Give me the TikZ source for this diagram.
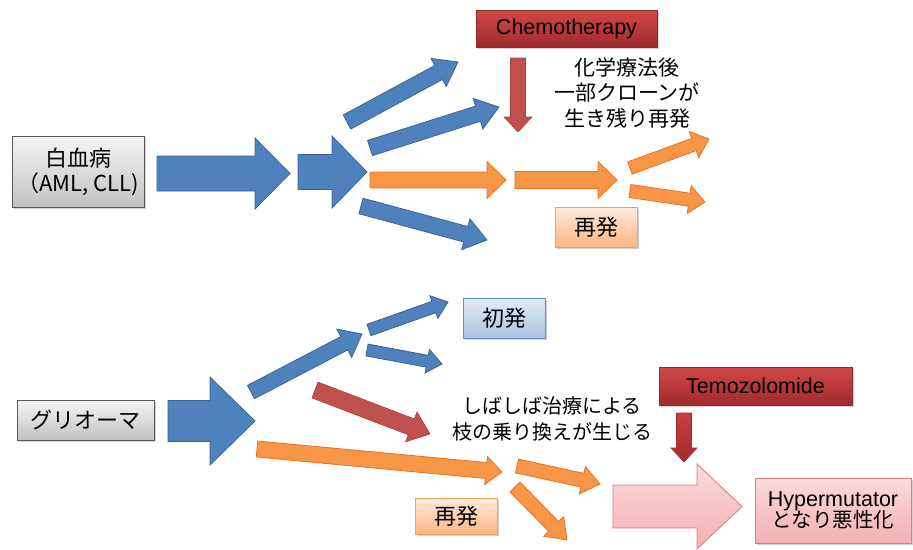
\documentclass[tikz,border=0pt]{standalone}
\usepackage{fontspec}
\setmainfont{Noto Sans CJK JP}
\newfontfamily\latfont{Liberation Sans}
\usetikzlibrary{shadows}
\definecolor{bluef}{HTML}{4F81BD}
\definecolor{blued}{HTML}{3A6595}
\definecolor{orangef}{HTML}{F79646}
\definecolor{oranged}{HTML}{E8731F}
\definecolor{redf}{HTML}{C0504D}
\definecolor{redd}{HTML}{A8403E}
\definecolor{temot}{HTML}{C8403F}
\definecolor{temob}{HTML}{A32A2D}
\definecolor{pinkt}{HTML}{FADADC}
\definecolor{pinkb}{HTML}{F4B0B3}
\definecolor{pinkd}{HTML}{DE7F84}
\definecolor{chemot}{HTML}{D24848}
\definecolor{chemob}{HTML}{A02A2C}
\definecolor{chemod}{HTML}{8E2A2A}
\definecolor{orbt}{HTML}{FEEBDC}
\definecolor{orbb}{HTML}{F9B583}
\definecolor{orbd}{HTML}{F4A060}
\definecolor{blbt}{HTML}{E2EBF6}
\definecolor{blbb}{HTML}{A9C3E2}
\definecolor{blbd}{HTML}{5E8FCB}
\newcommand{\barrow}[8]{%
  \pgfmathsetmacro\barA{atan2(#5-#3,#4-#2)}%
  \pgfmathsetmacro\barL{veclen(#4-#2,#5-#3)}%
  \begin{scope}[shift={(#2,#3)},rotate=-\barA]
    \draw[#1] (0,#6) -- (\barL-#8,#6) -- (\barL-#8,#7) -- (\barL,0)
      -- (\barL-#8,-#7) -- (\barL-#8,-#6) -- (0,-#6) -- cycle;
  \end{scope}}
\tikzset{
  bluearr/.style={fill=bluef,draw=blued,line width=0.8pt,line join=miter},
  orangearr/.style={fill=orangef,draw=oranged,line width=0.8pt,line join=miter},
  redarr/.style={fill=redf,draw=redd,line width=0.6pt,line join=miter},
  temoarr/.style={top color=temot,bottom color=temob,draw=temob,line width=0.6pt},
  pinkarr/.style={top color=pinkt,bottom color=pinkb,draw=pinkd,line width=0.9pt,line join=miter},
  boxshadow/.style={drop shadow={shadow xshift=1.5pt,shadow yshift=-1.5pt,opacity=0.3,fill=black!60}},
  graybox/.style={boxshadow,top color=black!4,bottom color=black!24,draw=black!65,line width=0.9pt,
    inner sep=0pt,align=center,font=\fontsize{22}{25}\selectfont},
  redbox/.style={boxshadow,top color=chemot,bottom color=chemob,draw=chemod,line width=0.5pt,
    inner sep=0pt,font=\latfont\fontsize{21.5}{24}\selectfont},
  orangebox/.style={boxshadow,top color=orbt,bottom color=orbb,draw=orbd,line width=0.8pt,
    inner sep=0pt,font=\fontsize{22}{25}\selectfont},
  bluebox/.style={boxshadow,top color=blbt,bottom color=blbb,draw=blbd,line width=0.8pt,
    inner sep=0pt,font=\fontsize{22}{25}\selectfont},
  pinkbox/.style={boxshadow,top color=pinkt,bottom color=pinkb,draw=pinkd,line width=0.9pt,
    inner sep=0pt,align=center},
  note/.style={align=center,inner sep=0pt}
}
\begin{document}
\begin{tikzpicture}[x=1pt,y=-1pt]
\useasboundingbox (0,0) rectangle (913,549);
% ---------- top: leukemia ----------
\node[graybox,minimum width=132pt,minimum height=71pt] (leuk) at (78,171.5)
  {白血病\\（AML, CLL)};
\node[redbox,minimum width=181pt,minimum height=37pt] (chemo) at (566.5,28.5) {Chemotherapy};
\node[note,font=\fontsize{21}{25.5}\selectfont] (txt1) at (627,93)
  {化学療法後\\一部クローンが\\生き残り再発};
\node[orangebox,minimum width=82pt,minimum height=40pt] (rel1) at (596,227) {再発};

\barrow{bluearr}{157}{173.5}{290}{173.5}{17.5}{35.5}{35}
\barrow{bluearr}{298}{172}{367}{172}{17.5}{36}{35}
\barrow{bluearr}{347}{122}{458}{62}{8}{16}{22}
\barrow{bluearr}{370}{148}{499}{107}{8}{16}{22}
\barrow{orangearr}{370}{180}{506}{180}{8}{18.5}{19}
\barrow{bluearr}{361}{206}{487}{240}{8}{16}{22}
\barrow{orangearr}{515}{180}{617}{180}{8.5}{18.5}{19}
\barrow{orangearr}{630}{168}{709}{139}{6.5}{14}{16}
\barrow{orangearr}{630}{191}{705}{202}{6.5}{14}{16}
\barrow{redarr}{518}{58}{518}{132}{7.5}{14}{15}

% ---------- bottom: glioma ----------
\node[graybox,minimum width=137pt,minimum height=40pt] (glio) at (85.5,420) {グリオーマ};
\node[bluebox,minimum width=82pt,minimum height=40pt] (first) at (504,318) {初発};
\node[note,font=\fontsize{20}{26}\selectfont] (txt2) at (552,419)
  {しばしば治療による\\枝の乗り換えが生じる};
\node[redbox,minimum width=193pt,minimum height=38pt] (temo) at (755.5,386) {Temozolomide};
\node[orangebox,minimum width=82pt,minimum height=36pt] (rel2) at (456,516.5) {再発};
\node[pinkbox,minimum width=156pt,minimum height=65pt] (hyper) at (833,510.5)
  {{\latfont\fontsize{21.5}{27}\selectfont Hypermutator}\\[-1pt]{\fontsize{20.5}{27}\selectfont となり悪性化}};

\barrow{bluearr}{168}{421}{255}{421}{20.5}{44}{45}
\barrow{bluearr}{251}{392}{362}{334}{7.5}{16}{20}
\barrow{bluearr}{369}{330}{448}{302}{6}{12}{15}
\barrow{bluearr}{367}{350}{442}{364}{6}{12}{15}
\barrow{redarr}{315}{390}{430}{434}{8.5}{16}{20}
\barrow{orangearr}{257}{449}{502}{472}{8}{14}{16}
\barrow{orangearr}{517}{466}{600}{484}{7}{14}{18}
\barrow{orangearr}{515}{487}{567}{540}{7}{14}{19}
\barrow{temoarr}{684}{413}{684}{462}{7.5}{13}{14}
\barrow{pinkarr}{613}{506.5}{742}{506.5}{21.5}{42.5}{45}
\end{tikzpicture}
\end{document}
